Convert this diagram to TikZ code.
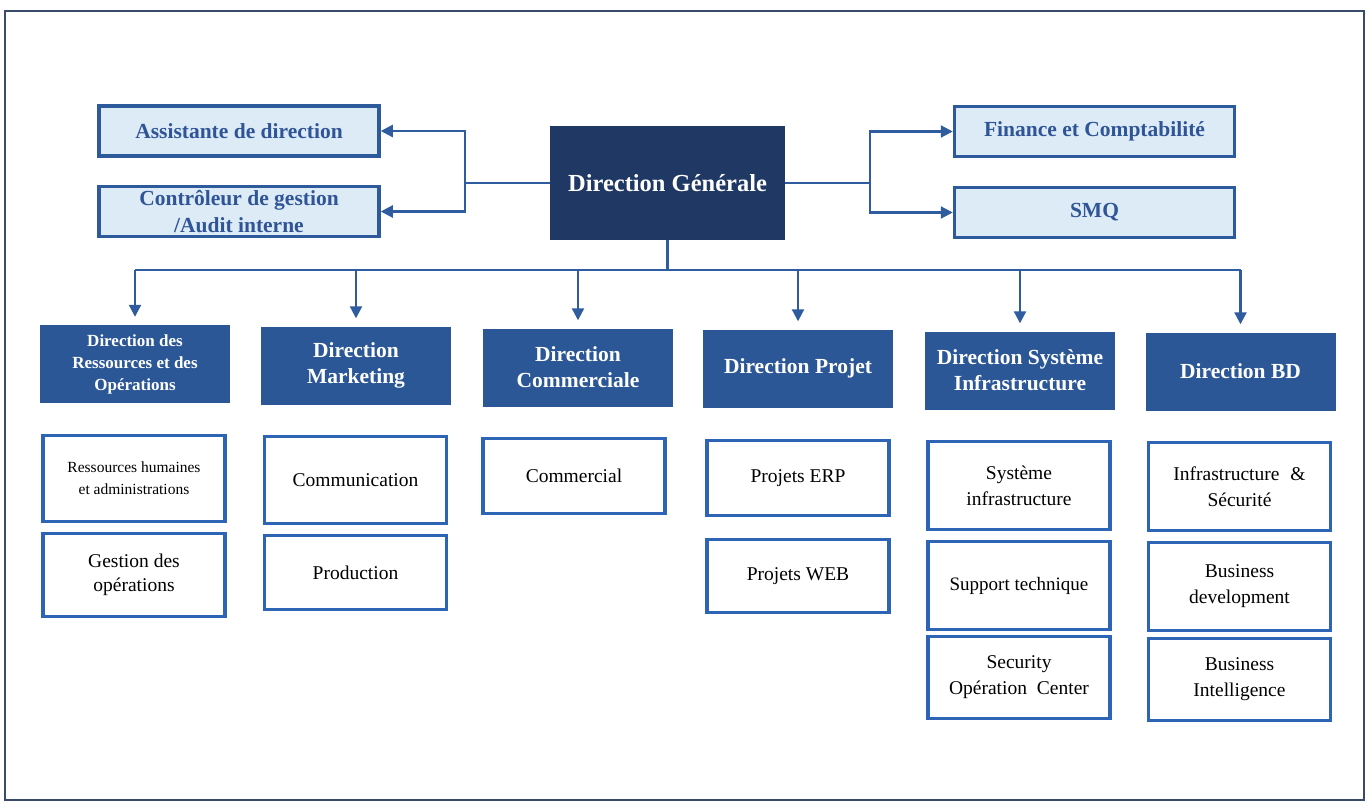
\documentclass[tikz,border=0pt]{standalone}
\usepackage{fontspec}
\setmainfont{Liberation Serif}
\usetikzlibrary{arrows.meta}
\definecolor{frameC}{HTML}{3A4A6A}
\definecolor{topfill}{HTML}{DDEBF7}
\definecolor{topborder}{HTML}{2D5A9A}
\definecolor{toptext}{HTML}{2F5597}
\definecolor{dgfill}{HTML}{1F3864}
\definecolor{dirfill}{HTML}{2B5797}
\definecolor{subborder}{HTML}{2E64B5}
\definecolor{connC}{HTML}{2E5C9E}
\tikzset{
  topbox/.style={draw=topborder, line width=3.5pt, fill=topfill, text=toptext, font=\fontsize{21.5}{27}\selectfont\bfseries, align=center, inner sep=0pt, minimum width=280pt, minimum height=50pt},
  dgbox/.style={fill=dgfill, text=white, font=\fontsize{24.5}{28}\selectfont\bfseries, align=center, inner sep=0pt, minimum width=235pt, minimum height=114pt},
  dirbox/.style={fill=dirfill, text=white, font=\fontsize{21.5}{26}\selectfont\bfseries, align=center, inner sep=0pt, minimum width=190pt, minimum height=78pt},
  subbox/.style={draw=subborder, line width=3.5pt, fill=white, text=black, font=\fontsize{19.5}{26}\selectfont, align=center, inner sep=0pt, minimum width=182pt},
  conn/.style={draw=connC, line width=2.2pt},
  arr/.style={conn, -{Triangle[width=12pt,length=12pt]}}
}
\begin{document}
\begin{tikzpicture}[x=1pt,y=-1pt]
\useasboundingbox (0,0) rectangle (1368,803);
\fill[white] (0,0) rectangle (1368,803);
\draw[frameC, line width=2.2pt] (5,11) rectangle (1364,800);

% top level
\node[dgbox] (dg) at (667.5,183) {Direction Générale};
\node[topbox] (assist) at (239,131) {Assistante de direction};
\node[topbox] (ctrl) at (239,211.5) {Contrôleur de gestion\\/Audit interne};
\node[topbox] (fin) at (1094.5,131.5) {Finance et Comptabilité};
\node[topbox] (smq) at (1094.5,212.5) {SMQ};

% directions
\node[dirbox, font=\fontsize{17}{22}\selectfont\bfseries] (d1) at (135,364) {Direction des\\Ressources et des\\Opérations};
\node[dirbox] (d2) at (356,365.5) {Direction\\Marketing};
\node[dirbox] (d3) at (578,367.5) {Direction\\Commerciale};
\node[dirbox] (d4) at (798,368.5) {Direction Projet};
\node[dirbox] (d5) at (1020,370.5) {Direction Système\\Infrastructure};
\node[dirbox] (d6) at (1240.5,371.5) {Direction BD};

% sub units
\node[subbox, minimum height=86pt, font=\fontsize{15.5}{22}\selectfont] (s11) at (134,478.5) {Ressources humaines\\et administrations};
\node[subbox, minimum height=83pt, font=\fontsize{19.5}{23.5}\selectfont] (s12) at (134,575) {Gestion des\\opérations};
\node[subbox, minimum height=87pt] (s21) at (355.5,480) {Communication};
\node[subbox, minimum height=74pt] (s22) at (355.5,572.5) {Production};
\node[subbox, minimum height=75pt] (s31) at (574,476) {Commercial};
\node[subbox, minimum height=75pt] (s41) at (798,478) {Projets ERP};
\node[subbox, minimum height=73pt] (s42) at (798,576) {Projets WEB};
\node[subbox, minimum height=88pt] (s51) at (1019,485.5) {Système\\infrastructure};
\node[subbox, minimum height=88pt, font=\fontsize{19}{24}\selectfont] (s52) at (1019,585.5) {Support technique};
\node[subbox, minimum height=82pt] (s53) at (1019,677.5) {Security\\Opération\hspace{5pt} Center};
\node[subbox, minimum height=88pt] (s61) at (1239.5,486.5) {Infrastructure\hspace{6pt} \&\\Sécurité};
\node[subbox, minimum height=88pt] (s62) at (1239.5,586.5) {Business\\development};
\node[subbox, minimum height=82pt] (s63) at (1239.5,679.5) {Business\\Intelligence};

% connectors left
\draw[conn] (dg.west) -- (465,183) coordinate (lb);
\draw[arr] (lb) |- (assist.east);
\draw[arr] (lb) |- (ctrl.east);
% connectors right
\draw[conn] (dg.east) -- (870,183) coordinate (rb);
\draw[arr] (rb) |- (fin.west);
\draw[arr] (rb) |- (smq.west);
% connectors bottom
\draw[conn] (dg.south) -- (667.5,270) coordinate (bb);
\draw[conn] (d1.north |- bb) -- (d6.north |- bb);
\foreach \d in {d1,d2,d3,d4,d5,d6}{
  \draw[arr, shorten >=8pt] (\d.north |- bb) -- (\d.north);
}
\end{tikzpicture}
\end{document}
